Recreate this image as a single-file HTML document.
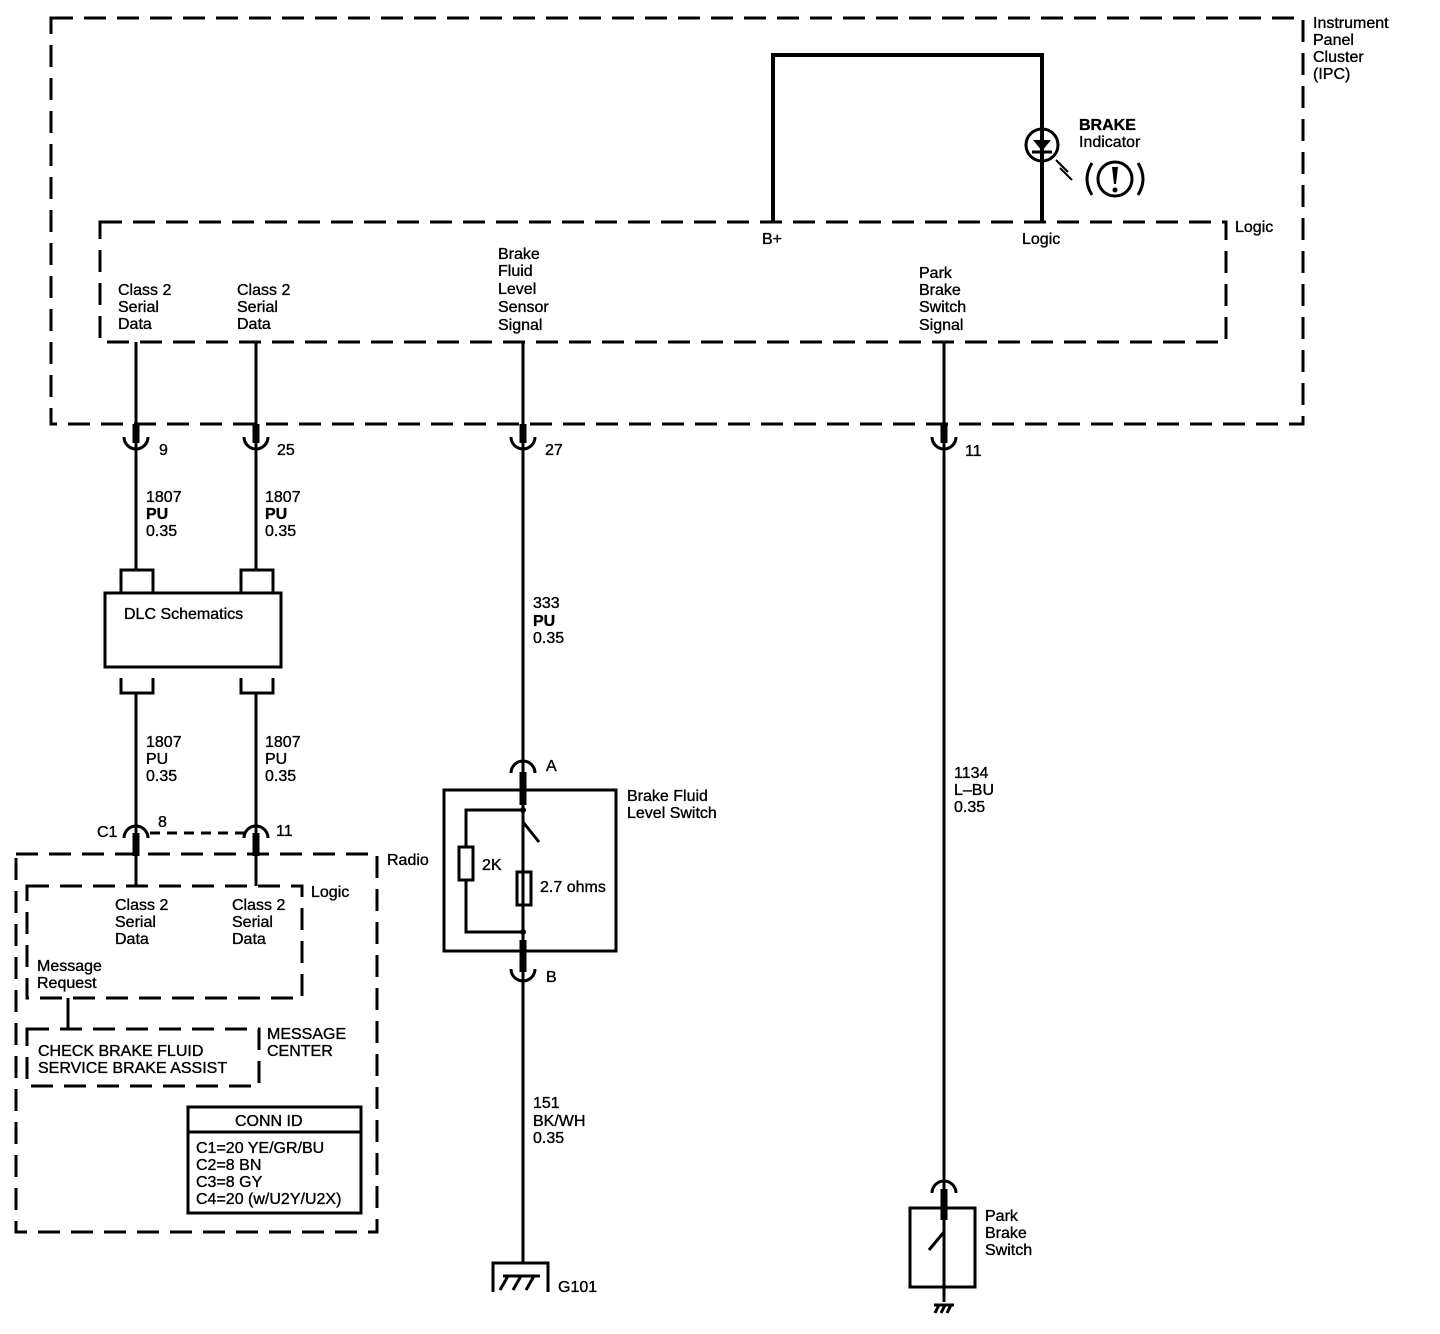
<!DOCTYPE html>
<html><head><meta charset="utf-8"><style>
html,body{margin:0;padding:0;background:#fff;}
svg{display:block}
text{font-family:"Liberation Sans",Arial,sans-serif;font-size:16px;fill:#000;stroke:#000;stroke-width:0.35px;}
.b{font-weight:bold}
</style></head><body>
<svg width="1440" height="1334" viewBox="0 0 1440 1334" xmlns="http://www.w3.org/2000/svg">
<g fill="none" stroke="#000" stroke-width="3">
<rect x="51" y="18" width="1252" height="406" stroke-dasharray="22,11"/>
<rect x="100" y="222" width="1126" height="120" stroke-dasharray="22,11"/>
<rect x="16" y="854" width="361" height="378" stroke-dasharray="22,11"/>
<rect x="27" y="886" width="275" height="112" stroke-dasharray="22,11"/>
<rect x="27" y="1029" width="232" height="57" stroke-dasharray="22,11"/>
<line x1="150" y1="833" x2="245" y2="833" stroke-dasharray="10,7"/>
<polyline points="773,222 773,55 1042,55 1042,222" stroke-width="4"/>
<circle cx="1042" cy="145" r="16"/>
<line x1="136" y1="342" x2="136" y2="570"/>
<line x1="256" y1="342" x2="256" y2="570"/>
<line x1="523" y1="342" x2="523" y2="1262"/>
<line x1="944" y1="342" x2="944" y2="1300"/>
<g stroke-width="7">
<line x1="136" y1="424" x2="136" y2="443"/>
<line x1="256" y1="424" x2="256" y2="443"/>
<line x1="523" y1="424" x2="523" y2="443"/>
<line x1="944" y1="424" x2="944" y2="443"/>
<line x1="136" y1="833" x2="136" y2="856"/>
<line x1="256" y1="833" x2="256" y2="856"/>
<line x1="523" y1="772" x2="523" y2="805"/>
<line x1="523" y1="940" x2="523" y2="972"/>
<line x1="944" y1="1189" x2="944" y2="1220"/>
</g>
<path d="M124,437 A12,12 0 0 0 148,437"/>
<path d="M244,437 A12,12 0 0 0 268,437"/>
<path d="M511,437 A12,12 0 0 0 535,437"/>
<path d="M932,437 A12,12 0 0 0 956,437"/>
<path d="M511,969 A12,12 0 0 0 535,969"/>
<path d="M124,838 A12,12 0 0 1 148,838"/>
<path d="M244,838 A12,12 0 0 1 268,838"/>
<path d="M511,773 A12,12 0 0 1 535,773"/>
<path d="M932,1193 A12,12 0 0 1 956,1193"/>
<rect x="105" y="593" width="176" height="74"/>
<polyline points="121,593 121,570 153,570 153,593"/>
<polyline points="241,593 241,570 273,570 273,593"/>
<polyline points="121,678 121,693 153,693 153,678"/>
<polyline points="241,678 241,693 273,693 273,678"/>
<line x1="136" y1="693" x2="136" y2="833"/>
<line x1="256" y1="693" x2="256" y2="833"/>
<line x1="136" y1="854" x2="136" y2="886"/>
<line x1="256" y1="854" x2="256" y2="886"/>
<line x1="68" y1="998" x2="68" y2="1029"/>
<rect x="188" y="1107" width="173" height="106"/>
<line x1="188" y1="1132" x2="361" y2="1132"/>
<rect x="444" y="790" width="172" height="161"/>
<polyline points="523,810 466,810 466,932 523,932"/>
<rect x="459" y="847" width="14" height="33" fill="#fff"/>
<rect x="517" y="872" width="14" height="33" fill="#fff"/>
<line x1="523" y1="810" x2="523" y2="822"/>
<line x1="523" y1="822" x2="539" y2="842"/>
<line x1="523" y1="847" x2="523" y2="940"/>
<polyline points="493,1292 493,1263 548,1263 548,1292"/>
<g stroke-width="3"><line x1="500" y1="1290" x2="508" y2="1276"/><line x1="513" y1="1290" x2="521" y2="1276"/><line x1="526" y1="1290" x2="534" y2="1276"/><line x1="503" y1="1276" x2="540" y2="1276"/></g>
<rect x="910" y="1208" width="65" height="79"/>
<line x1="944" y1="1220" x2="944" y2="1232"/>
<line x1="944" y1="1232" x2="929" y2="1250"/>
<line x1="944" y1="1254" x2="944" y2="1302"/>
<line x1="934" y1="1305" x2="954" y2="1305"/>
<line x1="935" y1="1313" x2="939" y2="1305"/><line x1="941" y1="1313" x2="945" y2="1305"/><line x1="947" y1="1313" x2="951" y2="1305"/>
<circle cx="1115" cy="179" r="17"/>
<path d="M1092,163 Q1082,179 1092,195"/>
<path d="M1138,163 Q1148,179 1138,195"/>
<line x1="1056" y1="160" x2="1068" y2="172" stroke-width="2"/>
<line x1="1060" y1="168" x2="1072" y2="180" stroke-width="2"/>
</g>
<circle cx="523" cy="810" r="3"/><circle cx="523" cy="932" r="3"/>
<polygon points="1033,140 1051,140 1042,151"/>
<line x1="1032" y1="152" x2="1052" y2="152" stroke="#000" stroke-width="3"/>
<polygon points="1112,167 1118,167 1116,184 1114,184"/>
<circle cx="1115" cy="190" r="2.5"/>
<text x="1313" y="28">Instrument</text><text x="1313" y="45">Panel</text><text x="1313" y="62">Cluster</text><text x="1313" y="79">(IPC)</text>
<text x="1079" y="130" class="b">BRAKE</text><text x="1079" y="147">Indicator</text>
<text x="1235" y="232">Logic</text>
<text x="762" y="244">B+</text><text x="1022" y="244">Logic</text>
<text x="118" y="295">Class 2</text><text x="118" y="312">Serial</text><text x="118" y="329">Data</text>
<text x="237" y="295">Class 2</text><text x="237" y="312">Serial</text><text x="237" y="329">Data</text>
<text x="498" y="259">Brake</text><text x="498" y="276">Fluid</text><text x="498" y="294">Level</text><text x="498" y="312">Sensor</text><text x="498" y="330">Signal</text>
<text x="919" y="278">Park</text><text x="919" y="295">Brake</text><text x="919" y="312">Switch</text><text x="919" y="330">Signal</text>
<text x="159" y="455">9</text><text x="277" y="455">25</text><text x="545" y="455">27</text><text x="965" y="456">11</text>
<text x="146" y="502">1807</text><text x="146" y="519" class="b">PU</text><text x="146" y="536">0.35</text>
<text x="265" y="502">1807</text><text x="265" y="519" class="b">PU</text><text x="265" y="536">0.35</text>
<text x="124" y="619">DLC Schematics</text>
<text x="146" y="747">1807</text><text x="146" y="764">PU</text><text x="146" y="781">0.35</text>
<text x="265" y="747">1807</text><text x="265" y="764">PU</text><text x="265" y="781">0.35</text>
<text x="533" y="608">333</text><text x="533" y="626" class="b">PU</text><text x="533" y="643">0.35</text>
<text x="546" y="771">A</text><text x="546" y="982">B</text>
<text x="627" y="801">Brake Fluid</text><text x="627" y="818">Level Switch</text>
<text x="482" y="870">2K</text><text x="540" y="892">2.7 ohms</text>
<text x="954" y="778">1134</text><text x="954" y="795">L–BU</text><text x="954" y="812">0.35</text>
<text x="533" y="1108">151</text><text x="533" y="1126">BK/WH</text><text x="533" y="1143">0.35</text>
<text x="558" y="1292">G101</text>
<text x="985" y="1221">Park</text><text x="985" y="1238">Brake</text><text x="985" y="1255">Switch</text>
<text x="97" y="837">C1</text><text x="158" y="827">8</text><text x="276" y="836">11</text>
<text x="387" y="865">Radio</text><text x="311" y="897">Logic</text>
<text x="115" y="910">Class 2</text><text x="115" y="927">Serial</text><text x="115" y="944">Data</text>
<text x="232" y="910">Class 2</text><text x="232" y="927">Serial</text><text x="232" y="944">Data</text>
<text x="37" y="971">Message</text><text x="37" y="988">Request</text>
<text x="267" y="1039">MESSAGE</text><text x="267" y="1056">CENTER</text>
<text x="38" y="1056">CHECK BRAKE FLUID</text><text x="38" y="1073">SERVICE BRAKE ASSIST</text>
<text x="235" y="1126">CONN ID</text>
<text x="196" y="1153">C1=20 YE/GR/BU</text><text x="196" y="1170">C2=8 BN</text><text x="196" y="1187">C3=8 GY</text><text x="196" y="1204">C4=20 (w/U2Y/U2X)</text>
</svg>
</body></html>
